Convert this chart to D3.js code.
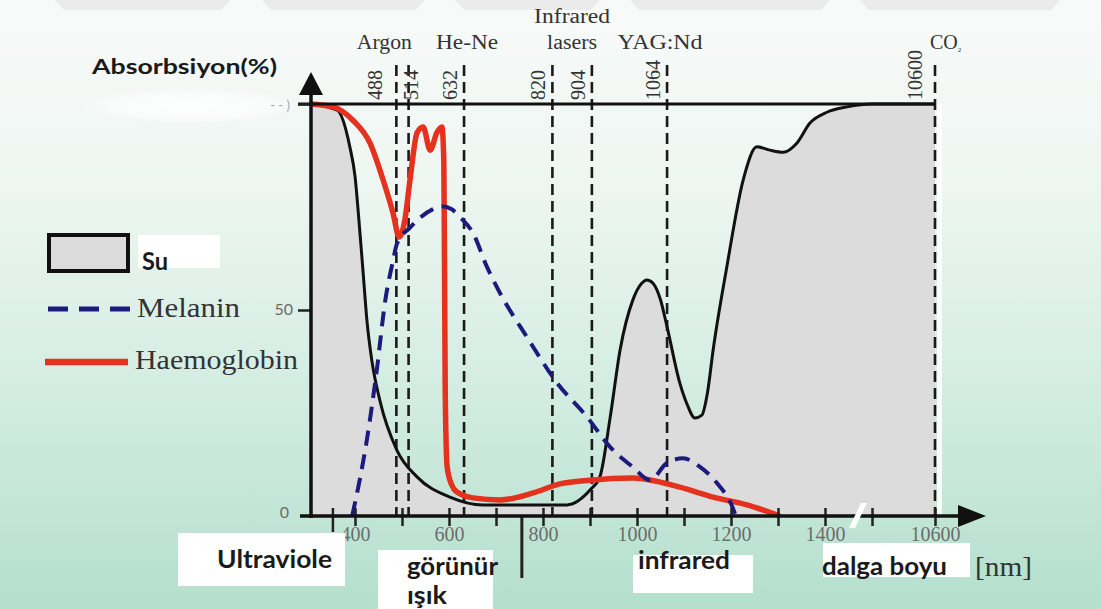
<!DOCTYPE html>
<html><head><meta charset="utf-8">
<script src="https://cdn.jsdelivr.net/npm/d3@7"></script>
<style>
html,body{margin:0;padding:0;background:#fff;}
body{width:1101px;height:609px;overflow:hidden;}
svg{display:block;}
</style></head><body>
<svg id="c" width="1101" height="609"></svg>
<script>
// ---- data (wavelength nm, absorption %) ----
const suNm  = [306,362,389,400,408.5,417,425.5,436,453,489,532,602,672,779,851,900,921,943,964,991,1010,1021,1034,1050,1064,1091,1107,1123,1138,1150,1162,1191,1226,1255,1283,1311,1340,1368,1404,1447,1500,10600];
const suVal = [100,98.5,89.6,82.5,71.6,59.5,47.3,37.6,28,16,9.5,4.6,2.7,2.7,2.7,6.3,9.5,24,40.3,52.4,56.5,57.3,56.5,52.5,45.9,32.3,27,23.8,24.5,30,40.3,60.4,81.6,89.6,88.8,88.3,90.5,95.4,98,99.3,100,100];

const melNm  = [394,426,447,464,481,489,517,566,585,605,623,651,681,709,766,830,894,943,991,1028,1064,1098,1134,1170,1204,1210];
const melVal = [0,19,36,52,62,66,70,74.5,75.2,74.5,72.6,68.7,60.4,54,43.4,32.3,24,16.7,11.9,8.7,12.9,14,11.9,8,1.9,0];

const hbNm  = [305,353,396,432,460,481,494,506,517,532,545,560,574,585,589,590.5,592,596,606,617,651,709,779,836,900,991,1091,1162,1234,1304];
const hbVal = [100,99.3,96,90.5,81.5,73.5,67.7,71.8,81.5,93,94.4,88.8,93,94.4,86,60,30,12,7.5,5.8,4.4,3.9,5.6,7.8,8.7,9.2,7,4.6,2.7,0];

const laserNm     = [488,514,632,820,904,1064,10600];
const laserLabels = ["488","514","632","820","904","1064","10600"];
const laserGroups = ["Argon","He-Ne","Infrared","lasers","YAG:Nd","CO"];

const tickMarks  = [400,500,600,700,800,900,1000,1100,1200,1300,1400,1500,10600];
const tickLabels = [400,600,800,1000,1200,1400,10600];
const yTicks     = [0,50];
const bandEdges  = [353,755];   // UV mark, visible / infrared separator

const legendNames = ["Su","Melanin","Haemoglobin"];
const bandNames   = ["Ultraviole","görünür","ışık","infrared","dalga boyu"];

// ---- scales ----
const x = d3.scaleLinear().domain([300,1500,10600]).range([308,872,935]);
const y = d3.scaleLinear().domain([0,100]).range([516,104]);

const RED = "#e5321f", NAVY = "#1d1a7e", INK = "#111";
const SERIF = "'Liberation Serif','Times New Roman',serif";
const SANS = "Lato,'Open Sans',sans-serif";

const svg = d3.select("#c");
const defs = svg.append("defs");
const g = defs.append("linearGradient").attr("id","bg").attr("x1",0).attr("y1",0).attr("x2",0).attr("y2",1);
[[0,"#f8faf9"],[0.3,"#eef6f2"],[0.6,"#d6eee4"],[1,"#b4dfcd"]].forEach(s=>g.append("stop").attr("offset",s[0]).attr("stop-color",s[1]));
const wg = defs.append("radialGradient").attr("id","glow");
[[0,"#fff",0.9],[0.7,"#fff",0.6],[1,"#fff",0]].forEach(s=>wg.append("stop").attr("offset",s[0]).attr("stop-color",s[1]).attr("stop-opacity",s[2]));

svg.append("rect").attr("width",1101).attr("height",609).attr("fill","url(#bg)");

// faint watermark at top edge
[[55,230],[262,425],[455,600],[630,830],[860,1060]].forEach(p=>{
  svg.append("polygon").attr("points",`${p[0]},0 ${p[1]},0 ${p[1]-9},10 ${p[0]+9},10`).attr("fill","#ebebeb");
});

// white patch over "100"
svg.append("ellipse").attr("cx",190).attr("cy",106).attr("rx",110).attr("ry",18).attr("fill","url(#glow)");
svg.append("text").attr("x",290).attr("y",110).attr("text-anchor","end").attr("font-family",SANS).attr("font-size",13).attr("fill","#aaa").text("- - )");

// water area
const su = suNm.map((d,i)=>[d,suVal[i]]);
svg.append("path").datum(su)
  .attr("d",d3.area().x(d=>x(d[0])).y0(y(0)).y1(d=>y(d[1])).curve(d3.curveMonotoneX))
  .attr("fill","#dcdcdc");
svg.append("rect").attr("x",x(10600)+2).attr("y",y(100)).attr("width",5).attr("height",y(0)-y(100)).attr("fill","#fff").attr("opacity",0.85);

// laser lines
svg.append("g").selectAll("line").data(laserNm).join("line")
  .attr("x1",d=>x(d)).attr("x2",d=>x(d)).attr("y1",65).attr("y2",y(0))
  .attr("stroke","#1a1a1a").attr("stroke-width",2.6).attr("stroke-dasharray","11,6");

// water outline
svg.append("path").datum(su)
  .attr("d",d3.line().x(d=>x(d[0])).y(d=>y(d[1])).curve(d3.curveMonotoneX))
  .attr("fill","none").attr("stroke",INK).attr("stroke-width",3);

// haemoglobin
const hb = hbNm.map((d,i)=>[d,hbVal[i]]);
svg.append("path").datum(hb)
  .attr("d",d3.line().x(d=>x(d[0])).y(d=>y(d[1])).curve(d3.curveMonotoneX))
  .attr("fill","none").attr("stroke",RED).attr("stroke-width",5.5).attr("stroke-linejoin","round");

// melanin
const mel = melNm.map((d,i)=>[d,melVal[i]]);
svg.append("path").datum(mel)
  .attr("d",d3.line().x(d=>x(d[0])).y(d=>y(d[1])).curve(d3.curveMonotoneX))
  .attr("fill","none").attr("stroke",NAVY).attr("stroke-width",4).attr("stroke-dasharray","15,9");

// 100% line
svg.append("line").attr("x1",298).attr("x2",x(10600)).attr("y1",y(100)).attr("y2",y(100)).attr("stroke",INK).attr("stroke-width",3);

// x axis ticks
const xt = svg.append("g").attr("transform",`translate(0,${y(0)})`)
  .call(d3.axisBottom(x).tickValues(tickMarks).tickSize(10).tickFormat(""));
xt.select(".domain").remove();
xt.selectAll(".tick line").attr("y1",-8).attr("stroke","#222").attr("stroke-width",2.5);
const xl = svg.append("g").attr("transform",`translate(0,${y(0)})`)
  .call(d3.axisBottom(x).tickValues(tickLabels).tickSize(0).tickPadding(11).tickFormat(d3.format("d")));
xl.select(".domain").remove();
xl.selectAll("text").attr("font-family",SERIF).attr("font-size",20).attr("fill","#6d6d6d");

// band edges
svg.append("line").attr("x1",x(bandEdges[0])).attr("x2",x(bandEdges[0])).attr("y1",508).attr("y2",532).attr("stroke","#222").attr("stroke-width",2.5);
svg.append("line").attr("x1",x(bandEdges[1])).attr("x2",x(bandEdges[1])).attr("y1",y(0)).attr("y2",578).attr("stroke","#222").attr("stroke-width",3);

// y axis
const ya = svg.append("g").attr("transform","translate(311,0)")
  .call(d3.axisLeft(y).tickValues([100,50]).tickSize(13).tickFormat(""));
ya.select(".domain").remove();
ya.selectAll(".tick line").attr("stroke","#222").attr("stroke-width",2.5);
svg.append("g").selectAll("text").data(yTicks).join("text")
  .attr("x",d=>d===0?289:293).attr("y",d=>d===0?y(d)+2:y(d)+5).attr("text-anchor","end")
  .attr("font-family",SANS).attr("font-size",16).attr("fill","#6a6a6a").text(d=>d);

// axes lines + arrows
svg.append("line").attr("x1",300).attr("x2",965).attr("y1",y(0)).attr("y2",y(0)).attr("stroke",INK).attr("stroke-width",3.5);
svg.append("polygon").attr("points",`986,${y(0)} 958,${y(0)-11} 958,${y(0)+11}`).attr("fill",INK);
svg.append("line").attr("x1",311).attr("x2",311).attr("y1",y(0)+2).attr("y2",90).attr("stroke",INK).attr("stroke-width",3.5);
svg.append("polygon").attr("points",`311,72 299,95 323,95`).attr("fill",INK);

// axis break
svg.append("polygon").attr("points","849,528 855,528 867,503 861,503").attr("fill","#fff");

// laser wavelength labels (rotated)
const labOff = [-14,9,-7,-7,-7,-7,-13];
svg.append("g").selectAll("text").data(laserLabels).join("text")
  .attr("transform",(d,i)=>`translate(${x(laserNm[i])+labOff[i]},100) rotate(-90)`)
  .attr("font-family",SERIF).attr("font-size",20).attr("fill","#333").text(d=>d);

// laser group labels
const grpPos = [[x(488)-12,49,55],[x(632)+3,49,62],[(x(820)+x(904))/2,23,76],[(x(820)+x(904))/2,49,50],[x(1064)-7,49,85]];
laserGroups.slice(0,5).forEach((t,i)=>{
  svg.append("text").attr("x",grpPos[i][0]).attr("y",grpPos[i][1]).attr("text-anchor","middle")
    .attr("font-family",SERIF).attr("font-size",20).attr("fill","#333")
    .attr("textLength",grpPos[i][2]).attr("lengthAdjust","spacingAndGlyphs").text(t);
});
const co = svg.append("text").attr("x",x(10600)-5).attr("y",49).attr("font-family",SERIF).attr("font-size",20).attr("fill","#333");
co.append("tspan").text(laserGroups[5]);
co.append("tspan").attr("font-size",7).attr("dy",3).text("2");

// y axis title
svg.append("text").attr("x",92).attr("y",74).attr("font-family",SANS).attr("font-weight",700).attr("font-size",21)
  .attr("fill","#1a1a1a").attr("textLength",185).attr("lengthAdjust","spacingAndGlyphs").text("Absorbsiyon(%)");

// legend
svg.append("rect").attr("x",49).attr("y",235).attr("width",79).attr("height",36).attr("fill","#dcdcdc").attr("stroke",INK).attr("stroke-width",4);
svg.append("rect").attr("x",138).attr("y",235).attr("width",82).attr("height",33).attr("fill","#fff");
svg.append("text").attr("x",142).attr("y",270).attr("font-family",SANS).attr("font-weight",700).attr("font-size",24)
  .attr("fill","#1a1a1a").attr("textLength",26).attr("lengthAdjust","spacingAndGlyphs").text(legendNames[0]);
svg.append("line").attr("x1",48).attr("x2",130).attr("y1",309).attr("y2",309).attr("stroke",NAVY).attr("stroke-width",5).attr("stroke-dasharray","20,11");
svg.append("text").attr("x",137).attr("y",317).attr("font-family",SERIF).attr("font-size",27)
  .attr("fill","#333").attr("textLength",103).attr("lengthAdjust","spacingAndGlyphs").text(legendNames[1]);
svg.append("line").attr("x1",45).attr("x2",128).attr("y1",362).attr("y2",362).attr("stroke",RED).attr("stroke-width",6.5);
svg.append("text").attr("x",135).attr("y",369).attr("font-family",SERIF).attr("font-size",27)
  .attr("fill","#333").attr("textLength",163).attr("lengthAdjust","spacingAndGlyphs").text(legendNames[2]);

// band labels with white boxes
const boxes = [[178,533,167,53],[378,550,115,59],[633,555,120,38],[823,543,147,34]];
boxes.forEach(b=>svg.append("rect").attr("x",b[0]).attr("y",b[1]).attr("width",b[2]).attr("height",b[3]).attr("fill","#fff"));
const bandPos = [[217,568,115],[407,575,91],[407,604,40],[638,569,92],[822,575,125]];
bandNames.forEach((t,i)=>{
  svg.append("text").attr("x",bandPos[i][0]).attr("y",bandPos[i][1]).attr("font-family",SANS).attr("font-weight",700)
    .attr("font-size",25).attr("fill","#1a1a1a").attr("textLength",bandPos[i][2]).attr("lengthAdjust","spacingAndGlyphs").text(t);
});
svg.append("text").attr("x",975).attr("y",576).attr("font-family",SERIF).attr("font-size",27).attr("fill","#333")
  .attr("textLength",57).attr("lengthAdjust","spacingAndGlyphs").text("[nm]");
</script>
</body></html>
